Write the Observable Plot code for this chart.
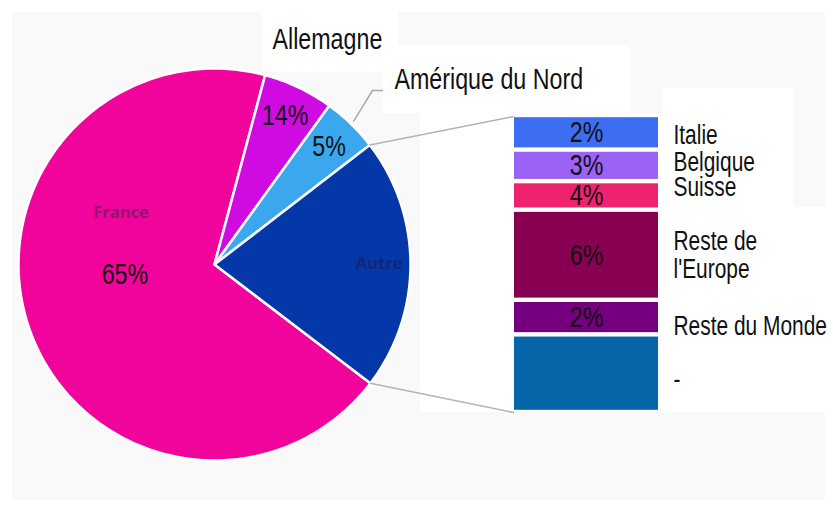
<!DOCTYPE html>
<html><head><meta charset="utf-8">
<script src="https://cdn.jsdelivr.net/npm/d3@7"></script>
<script src="https://cdn.jsdelivr.net/npm/@observablehq/plot@0.6"></script>
<style>
body{margin:0;background:#fff}
#chart{width:833px;height:506px}
</style>
</head><body><div id="chart"></div>
<script>
// ---- data ----
const pieNames = ["France", "Allemagne", "Amérique du Nord", "Autre"];
const pieShares = [68.8, 5.8, 4.6, 20.8];           // drawn slice sizes (% of circle)
const pieLabels = ["65%", "14%", "5%", ""];
const pieColors = ["#f1049b", "#d00be2", "#3ba7ee", "#0437a8"];

const barNames = ["Italie", "Belgique", "Suisse", "Reste de\nl'Europe", "Reste du Monde", "-"];
const barHeights = [34.5, 31.5, 28.5, 90, 34.5, 77.5];  // drawn segment sizes
const barLabels = ["2%", "3%", "4%", "6%", "2%", ""];
const barColors = ["#3c6df3", "#9b62f6", "#ef2270", "#880052", "#74007f", "#0565a6"];

// ---- layout ----
const W = 833, H = 506;
const cx = 214, cy = 264, R = 196;
const startDeg = 127.3;
const barX1 = 514, barX2 = 658, barTop = 115, barBottom = 412;
const legendX = 673;
const legendNudge = [2.5, -4, -8.5, 0, 8.5, 5.5];
const FONT = '"Liberation Sans", Arial, sans-serif';
const CONDENSE = 0.775;

const rad = d => d * Math.PI / 180;
const pt = (a, r) => ({x: cx + r * Math.sin(a), y: cy - r * Math.cos(a)});

const arcs = d3.pie().sort(null)
  .startAngle(rad(startDeg)).endAngle(rad(startDeg) + 2 * Math.PI)(pieShares);

const slicePts = [];
arcs.forEach((a, i) => {
  slicePts.push({i, x: cx, y: cy, color: pieColors[i]});
  const n = Math.max(8, Math.ceil((a.endAngle - a.startAngle) / rad(1)));
  for (let k = 0; k <= n; k++) {
    const t = a.startAngle + (a.endAngle - a.startAngle) * k / n;
    slicePts.push({i, ...pt(t, R), color: pieColors[i]});
  }
});

// bar segments
const barTotal = d3.sum(barHeights);
const kBar = (barBottom - barTop) / barTotal;
let acc = 0;
const barSegs = barHeights.map((h, i) => {
  const y1 = barTop + acc * kBar; acc += h; const y2 = barTop + acc * kBar;
  return {name: barNames[i], label: barLabels[i], color: barColors[i], y1, y2, ym: (y1 + y2) / 2};
});

// pie labels
const mid = a => (a.startAngle + a.endAngle) / 2;
const pieLabelPos = arcs.map((a, i) => {
  if (i === 0) return {...pt(rad(263.6), R * 0.46), text: pieLabels[i]};
  return {...pt(mid(a), R * 0.84), text: pieLabels[i]};
});
const franceName = {...pt(rad(299), R * 0.545), text: pieNames[0]};
const autreName = {...pt(mid(arcs[3]), R * 0.84), text: pieNames[3]};

// connector lines
const cUp = pt(arcs[2].endAngle, R), cDown = pt(arcs[0].startAngle, R);
const connectors = [
  {g: 0, x: cUp.x, y: cUp.y}, {g: 0, x: barX1 - 1, y: barTop + 1},
  {g: 1, x: cDown.x, y: cDown.y}, {g: 1, x: barX1 - 1, y: barBottom}
];
const amLabel = {x: 394, y: 79};
const alLabel = {x: 272, y: 39};
const amP = pt(mid(arcs[2]), R * 1.02);
const leader = [
  {x: amP.x, y: amP.y}, {x: amLabel.x - 22, y: amLabel.y + 11}, {x: amLabel.x - 12, y: amLabel.y + 11}
];

// background panels
const bgBoxes = [
  {x1: 12, x2: 825, y1: 12, y2: 500, fill: "#f9f9f9"},
  {x1: 262, x2: 398, y1: 12, y2: 72, fill: "#ffffff"},
  {x1: 383, x2: 630, y1: 45, y2: 113, fill: "#ffffff"},
  {x1: 663, x2: 793, y1: 88, y2: 207, fill: "#ffffff"},
  {x1: 420, x2: 663, y1: 113, y2: 412, fill: "#ffffff"},
  {x1: 663, x2: 833, y1: 207, y2: 412, fill: "#ffffff"}
];

const chart = Plot.plot({
  width: W, height: H, margin: 0,
  x: {domain: [0, W], range: [0, W], axis: null},
  y: {domain: [0, H], range: [0, H], axis: null},
  color: {type: "identity"},
  style: {fontFamily: FONT, background: "#ffffff"},
  marks: [
    Plot.rect(bgBoxes, {x1: "x1", x2: "x2", y1: "y1", y2: "y2", fill: "fill"}),
    Plot.line(slicePts, {x: "x", y: "y", z: "i", fill: "color", stroke: "#ffffff", strokeWidth: 2.5,
      strokeLinejoin: "round", curve: "linear-closed"}),
    Plot.line(connectors, {x: "x", y: "y", z: "g", stroke: "#b4b4b4", strokeWidth: 1.6}),
    Plot.line(leader, {x: "x", y: "y", stroke: "#aaaaaa", strokeWidth: 1.5}),
    Plot.rect(barSegs, {x1: barX1, x2: barX2, y1: "y1", y2: "y2", fill: "color",
      insetTop: 2.2, insetBottom: 2.2}),
    Plot.text(barSegs, {x: (barX1 + barX2) / 2, y: "ym", text: "label", fontSize: 30, fill: "#111"}),
    Plot.text(barSegs, {x: legendX, y: (d, i) => d.ym + legendNudge[i], text: "name", fontSize: 27,
      textAnchor: "start", lineHeight: 1.04, fill: "#111"}),
    Plot.text(pieLabelPos, {x: "x", y: "y", text: "text", fontSize: 30, fill: "#111"}),
    Plot.text([franceName], {x: "x", y: "y", text: "text", fontSize: 16.5, fontWeight: 700,
      fontFamily: "Open Sans", fill: "#7c1968", fillOpacity: 0.85}),
    Plot.text([autreName], {x: "x", y: "y", text: "text", fontSize: 16.5, fontWeight: 700,
      fontFamily: "Open Sans", fill: "#17226a", fillOpacity: 0.85}),
    Plot.text([{...alLabel, t: pieNames[1]}], {x: "x", y: "y", text: "t", fontSize: 30,
      textAnchor: "start", fill: "#111"}),
    Plot.text([{...amLabel, t: pieNames[2]}], {x: "x", y: "y", text: "t", fontSize: 30,
      textAnchor: "start", fill: "#111"})
  ]
});

// condense the large labels horizontally (reference uses a condensed face)
d3.select(chart).selectAll("text").each(function() {
  const g = this.closest("g[font-size]");
  const fs = +(this.getAttribute("font-size") || (g && g.getAttribute("font-size")) || 0);
  if (fs < 20) return;
  const t = this.getAttribute("transform");
  if (t) this.setAttribute("transform", t + ` scale(${CONDENSE},1)`);
  else {
    const x = +this.getAttribute("x") || 0;
    this.setAttribute("transform", `translate(${x},0) scale(${CONDENSE},1) translate(${-x},0)`);
  }
});
document.getElementById("chart").appendChild(chart);
</script>
</body></html>
